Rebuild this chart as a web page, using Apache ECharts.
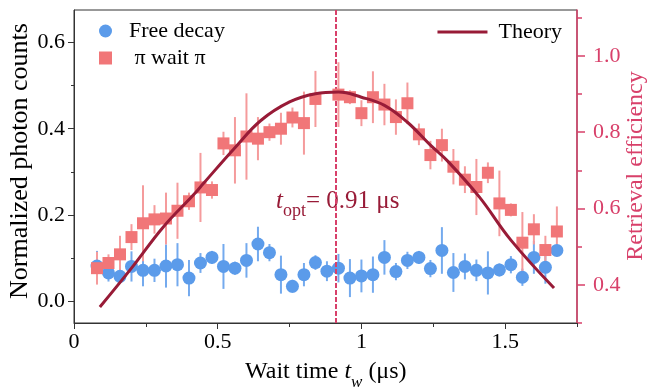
<!DOCTYPE html>
<html>
<head>
<meta charset="utf-8">
<script src="https://cdn.jsdelivr.net/npm/echarts@6/dist/echarts.min.js"></script>
<style>html,body{margin:0;padding:0;background:#fff;}#c{width:653px;height:388px;}</style>
</head>
<body>
<div id="c"></div>
<script>
// ---- data ----
const waitTimes = [0.08,0.12,0.16,0.20,0.24,0.28,0.32,0.36,0.40,0.44,0.48,0.52,0.56,0.60,0.64,0.68,0.72,0.76,0.80,0.84,0.88,
  0.92,0.96,1.00,1.04,1.08,1.12,1.16,1.20,1.24,1.28,1.32,1.36,1.40,1.44,1.48,1.52,1.56,1.60,1.64,1.68];
const freeDecay = [0.082,0.066,0.058,0.081,0.072,0.072,0.082,0.085,0.054,0.089,0.102,0.081,0.077,0.095,0.133,0.113,0.062,0.035,0.062,0.090,0.070,
  0.077,0.054,0.059,0.062,0.102,0.069,0.095,0.102,0.076,0.118,0.067,0.081,0.072,0.066,0.073,0.085,0.056,0.102,0.079,0.118];
const freeDecayErr = [0.035,0.020,0.015,0.035,0.037,0.027,0.050,0.050,0.042,0.023,0.015,0.052,0.015,0.040,0.040,0.020,0.044,0.015,0.027,0.017,0.023,
  0.033,0.044,0.038,0.042,0.040,0.020,0.020,0.015,0.020,0.054,0.045,0.030,0.025,0.050,0.015,0.020,0.020,0.038,0.038,0.012];
const piWaitPi = [0.077,0.089,0.109,0.149,0.181,0.190,0.192,0.210,0.232,0.264,0.258,0.366,0.350,0.382,0.377,0.392,0.400,0.426,0.413,0.469,null,
  0.479,0.473,0.436,0.473,0.456,0.427,0.459,0.387,0.339,0.362,0.312,0.282,0.265,0.298,0.227,0.212,0.136,0.167,0.119,0.162];
const piWaitPiErr = [0.038,0.020,0.043,0.030,0.088,0.033,0.060,0.065,0.020,0.080,0.020,0.027,0.077,0.100,0.050,0.020,0.037,0.023,0.073,0.065,null,
  0.075,0.016,0.030,0.060,0.048,0.041,0.048,0.025,0.033,0.038,0.041,0.031,0.065,0.024,0.076,0.015,0.071,0.035,0.033,0.058];
const theoryX = [0.09,0.20,0.31,0.42,0.45,0.56,0.65,0.75,0.84,0.92,1.00,1.08,1.16,1.24,1.30,1.41,1.52,1.67];
const theoryY = [-0.013,0.077,0.172,0.250,0.273,0.356,0.419,0.462,0.481,0.485,0.473,0.454,0.415,0.362,0.325,0.242,0.142,0.031];
const tOpt = 0.91;
const xTicks = [0, 0.5, 1, 1.5];
const xMinorTicks = [0.25, 0.75, 1.25, 1.75];
const leftTicks = [0, 0.2, 0.4, 0.6];
const leftMinorTicks = [0.1, 0.3, 0.5];
const rightTicks = [0.4, 0.6, 0.8, 1.0];
const rightMinorTicks = [0.3, 0.5, 0.7, 0.9, 1.1];

// ---- styles ----
const FONT = "'Liberation Serif','Times New Roman',serif";
const AX = '#333';
const CRIMSON = '#d8406a';
const BLUE = '#5b9bea', BLUE_ERR = '#74aaee';
const RED = '#f17678', RED_ERR = '#f59b9c';
const THEORY = '#981b37';

const chart = echarts.init(document.getElementById('c'), null, {renderer: 'canvas'});

function errSeries(name, ys, es, color) {
  const data = [];
  waitTimes.forEach((x, i) => { if (ys[i] != null) data.push([x, ys[i], es[i]]); });
  return {
    type: 'custom', name: name, xAxisIndex: 0, yAxisIndex: 0, data: data,
    encode: {x: 0, y: 1}, silent: true, z: 2,
    renderItem: (params, api) => {
      const x = api.value(0), y = api.value(1), e = api.value(2);
      const a = api.coord([x, y - e]), b = api.coord([x, y + e]);
      return {type: 'line', shape: {x1: a[0], y1: a[1], x2: b[0], y2: b[1]},
        style: {stroke: color, lineWidth: 2}};
    }
  };
}
function pts(ys) {
  const d = [];
  waitTimes.forEach((x, i) => { if (ys[i] != null) d.push([x, ys[i]]); });
  return d;
}

const tickLabel = {fontFamily: FONT, fontSize: 22};

chart.setOption({
  animation: false,
  grid: {left: 74, right: 76, top: 10, bottom: 65, show: true, borderColor: AX, borderWidth: 1, backgroundColor: 'transparent'},
  legend: [
    {data: [{name: 'Free decay', icon: 'circle'}, {name: ' π wait π', icon: 'rect'}],
     orient: 'vertical', left: 99, top: 20, padding: 0, itemWidth: 13, itemHeight: 13, itemGap: 5,
     textStyle: {fontFamily: FONT, fontSize: 22, color: '#000', padding: [0, 0, 0, 12]}},
    {data: [{name: 'Theory', icon: 'rect'}], right: 91, top: 21, padding: 0, itemWidth: 50, itemHeight: 3,
     textStyle: {fontFamily: FONT, fontSize: 22, color: '#000', padding: [0, 0, 0, 6]}}
  ],
  xAxis: [
    {type: 'value', min: 0, max: 1.75, position: 'bottom',
     axisLine: {onZero: false, lineStyle: {color: AX, width: 1}},
     axisTick: {customValues: xTicks, length: 6, lineStyle: {color: AX}},
     axisLabel: {customValues: xTicks, formatter: v => String(v), color: '#000', margin: 8, ...tickLabel},
     splitLine: {show: false}},
    {type: 'value', min: 0, max: 1.75, position: 'bottom',
     axisLine: {show: false, onZero: false},
     axisTick: {customValues: xMinorTicks, length: 4, lineStyle: {color: AX}},
     axisLabel: {show: false}, splitLine: {show: false}}
  ],
  yAxis: [
    {type: 'value', min: -0.05, max: 0.675, position: 'left',
     axisLine: {show: true, onZero: false, lineStyle: {color: AX, width: 1}},
     axisTick: {show: true, customValues: leftTicks, length: 6, lineStyle: {color: AX}},
     axisLabel: {customValues: leftTicks, formatter: v => v.toFixed(1), color: '#000', margin: 9, ...tickLabel},
     splitLine: {show: false}},
    {type: 'value', min: 0.3, max: 1.12, position: 'right',
     axisLine: {show: true, onZero: false, lineStyle: {color: CRIMSON, width: 1.5}},
     axisTick: {show: true, customValues: rightTicks, length: 8, lineStyle: {color: CRIMSON, width: 1.5}},
     axisLabel: {customValues: rightTicks, formatter: v => v.toFixed(1), color: CRIMSON, margin: 16, ...tickLabel},
     splitLine: {show: false}},
    {type: 'value', min: -0.05, max: 0.675, position: 'left',
     axisLine: {show: false, onZero: false},
     axisTick: {show: true, customValues: leftMinorTicks, length: 3, lineStyle: {color: AX}},
     axisLabel: {show: false}, splitLine: {show: false}},
    {type: 'value', min: 0.3, max: 1.12, position: 'right',
     axisLine: {show: false, onZero: false},
     axisTick: {show: true, customValues: rightMinorTicks, length: 5, lineStyle: {color: CRIMSON, width: 1.5}},
     axisLabel: {show: false}, splitLine: {show: false}}
  ],
  series: [
    errSeries('freeErr', freeDecay, freeDecayErr, BLUE_ERR),
    {type: 'scatter', name: 'Free decay', data: pts(freeDecay), symbol: 'circle', symbolSize: 13,
     itemStyle: {color: BLUE, opacity: 1}, z: 3},
    errSeries('piErr', piWaitPi, piWaitPiErr, RED_ERR),
    {type: 'scatter', name: ' π wait π', data: pts(piWaitPi), symbol: 'rect', symbolSize: 12,
     itemStyle: {color: RED, opacity: 1}, z: 5},
    {type: 'line', name: 'Theory', data: theoryX.map((x, i) => [x, theoryY[i]]), smooth: 0.4,
     symbol: 'none', lineStyle: {color: THEORY, width: 3}, itemStyle: {color: THEORY}, z: 6,
     markLine: {silent: true, symbol: 'none', label: {show: false},
       lineStyle: {color: CRIMSON, type: [5, 2], width: 2},
       data: [{xAxis: tOpt}]}}
  ],
  graphic: [
    {type: 'text', x: 20, y: 161, rotation: Math.PI / 2,
     style: {text: 'Normalized photon counts', font: "26px 'Liberation Serif'", fill: '#000', align: 'center', verticalAlign: 'middle'}},
    {type: 'text', x: 636, y: 166, rotation: Math.PI / 2,
     style: {text: 'Retrieval efficiency', font: "24px 'Liberation Serif'", fill: CRIMSON, align: 'center', verticalAlign: 'middle'}},
    {type: 'text', x: 245, y: 354,
     style: {text: '{n|Wait time }{i|t}{s|w}{n| (μs)}', fill: '#000',
       rich: {n: {fontFamily: FONT, fontSize: 24, lineHeight: 30, verticalAlign: 'bottom'},
              i: {fontFamily: FONT, fontSize: 24, fontStyle: 'italic', lineHeight: 30, verticalAlign: 'bottom'},
              s: {fontFamily: FONT, fontSize: 17, fontStyle: 'italic', lineHeight: 30, verticalAlign: 'bottom', padding: [0, 0, -7, 0]}}}},
    {type: 'text', x: 276, y: 184,
     style: {text: '{i|t}{s|opt}{n|= 0.91 μs}', fill: THEORY,
       rich: {n: {fontFamily: FONT, fontSize: 25, lineHeight: 30, verticalAlign: 'bottom'},
              i: {fontFamily: FONT, fontSize: 25, fontStyle: 'italic', lineHeight: 30, verticalAlign: 'bottom'},
              s: {fontFamily: FONT, fontSize: 18, lineHeight: 30, verticalAlign: 'bottom', padding: [0, 0, -6, 0]}}}}
  ]
});
</script>
</body>
</html>
